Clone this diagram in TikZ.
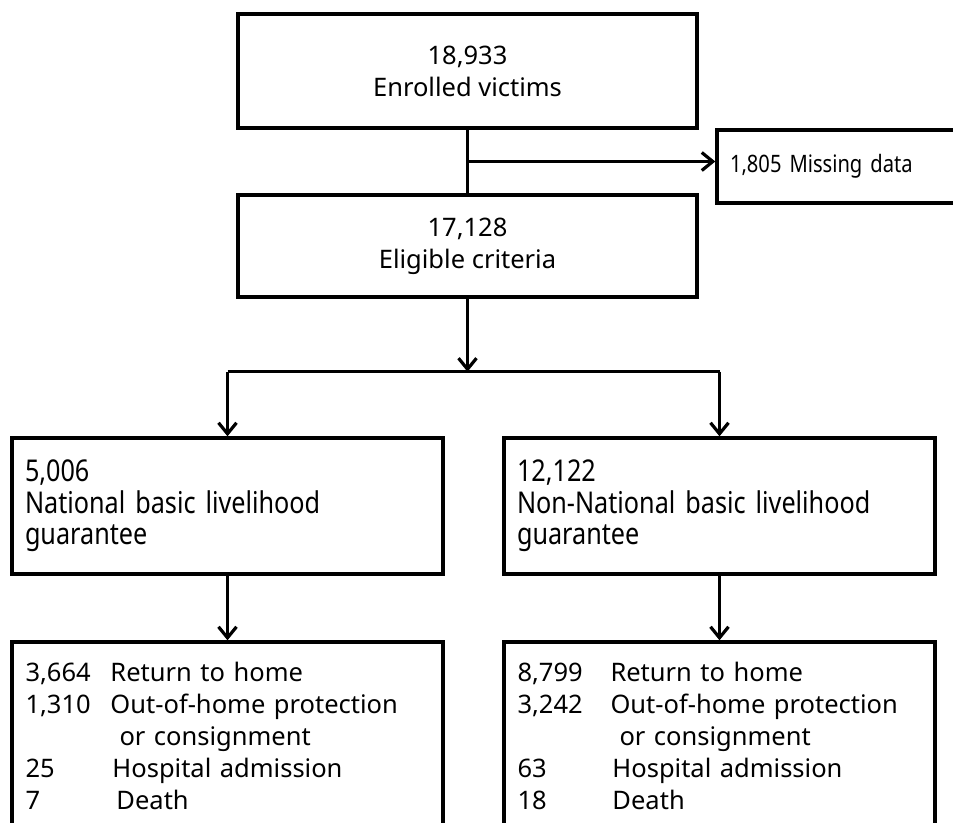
\documentclass[tikz,border=0pt]{standalone}
\usepackage{fontspec}
\setmainfont{Noto Sans}
\newfontfamily\narrowsans[FakeStretch=0.84]{Noto Sans}
\usetikzlibrary{positioning,arrows.meta,calc}
\tikzset{
  >={Straight Barb[length=11pt,width=18pt]},
  flowbox/.style={draw=black,line width=3.4pt,inner sep=0pt,
    font=\fontsize{25.5}{32}\selectfont},
  topbox/.style={flowbox,minimum width=459pt,align=center},
  sidebox/.style={flowbox,minimum width=253pt,minimum height=73pt,
    text width=227pt,align=left,font=\narrowsans\fontsize{24}{28}\selectfont},
  groupbox/.style={flowbox,minimum width=431pt,minimum height=136pt,
    text width=405pt,align=left,font=\narrowsans\fontsize{30}{31.5}\selectfont},
  outbox/.style={flowbox,minimum width=431pt,minimum height=188pt,
    text width=404pt,align=left},
  flow/.style={->,line width=3.2pt},
  flowline/.style={line width=3.2pt},
}
\newcommand{\cnt}[2]{\makebox[#1][l]{#2}}

\begin{document}
\begin{tikzpicture}[x=1pt,y=-1pt]
  \useasboundingbox (0,0) rectangle (953,822);
  \clip (0,0) rectangle (953,822);
  \node[topbox,minimum height=114pt] (enrolled) at (467.5,71) {18,933\\Enrolled victims};
  \node[topbox,minimum height=102pt] (eligible) at (467.5,246) {17,128\\Eligible criteria};
  \node[sidebox] (missing) at (843.5,166.5) {1,805 Missing data};
  \node[groupbox] (natl) at (227.5,506) {5,006\\National basic livelihood\\guarantee};
  \node[groupbox] (nonnatl) at (719.5,506) {12,122\\Non-National basic livelihood\\guarantee};
  \node[outbox] (natlout) at (227.5,736) {%
    \cnt{85pt}{3,664}Return to home\\
    \cnt{85pt}{1,310}Out-of-home protection\\
    \cnt{94pt}{}or consignment\\
    \cnt{87pt}{25}Hospital admission\\
    \cnt{91pt}{7}Death};
  \node[outbox] (nonnatlout) at (719.5,736) {%
    \cnt{93pt}{8,799}Return to home\\
    \cnt{93pt}{3,242}Out-of-home protection\\
    \cnt{102pt}{}or consignment\\
    \cnt{95pt}{63}Hospital admission\\
    \cnt{95pt}{18}Death};
  \coordinate (split) at ($(enrolled.south)!0.5!(eligible.north)$);
  \coordinate (fork) at ($(eligible.south)+(0,73)$);
  \draw[flowline] (enrolled.south) -- (eligible.north);
  \draw[flow] (split) -- (split -| missing.west);
  \draw[flow] (eligible.south) -- (fork);
  \draw[flowline] (natl.north |- fork) -- (nonnatl.north |- fork);
  \draw[flow] (natl.north |- fork) -- (natl.north);
  \draw[flow] (nonnatl.north |- fork) -- (nonnatl.north);
  \draw[flow] (natl) -- (natlout);
  \draw[flow] (nonnatl) -- (nonnatlout);
\end{tikzpicture}
\end{document}
